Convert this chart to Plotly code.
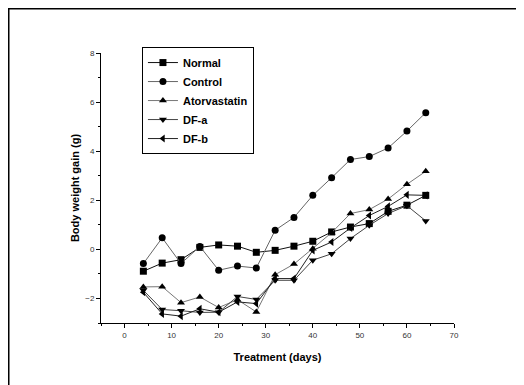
import plotly.graph_objects as go

days = [4, 8, 12, 16, 20, 24, 28, 32, 36, 40, 44, 48, 52, 56, 60, 64]
normal = [-0.89, -0.56, -0.42, 0.08, 0.18, 0.13, -0.12, -0.04, 0.13, 0.33, 0.71, 0.91, 1.05, 1.55, 1.8, 2.2]
control = [-0.58, 0.47, -0.58, 0.12, -0.85, -0.68, -0.76, 0.78, 1.3, 2.2, 2.92, 3.66, 3.78, 4.13, 4.82, 5.57]
atorvastatin = [-1.53, -1.52, -2.17, -1.94, -2.37, -2.05, -2.55, -1.03, -0.6, 0.03, 0.68, 1.46, 1.62, 2.05, 2.65, 3.18]
dfa = [-1.67, -2.45, -2.5, -2.57, -2.56, -1.92, -2.04, -1.26, -1.26, -0.44, -0.18, 0.44, 0.98, 1.46, 1.78, 1.16]
dfb = [-1.75, -2.63, -2.72, -2.42, -2.56, -2.14, -2.21, -1.19, -1.19, -0.04, 0.3, 0.87, 1.38, 1.75, 2.22, 2.2]

series = [
    ("Normal", normal, "square", "#111111"),
    ("Control", control, "circle", "#666666"),
    ("Atorvastatin", atorvastatin, "triangle-up", "#777777"),
    ("DF-a", dfa, "triangle-down", "#444444"),
    ("DF-b", dfb, "triangle-left", "#222222"),
]

fig = go.Figure()
for name, vals, sym, lc in series:
    fig.add_trace(go.Scatter(
        x=days, y=vals, name="<b>" + name + "</b>", mode="lines+markers",
        line=dict(color=lc, width=1),
        marker=dict(symbol=sym, size=7, color="black", line=dict(width=0)),
    ))

axis_common = dict(
    showgrid=False, zeroline=False, showline=True, linecolor="black", linewidth=1,
    ticks="outside", ticklen=4, tickcolor="black", tickwidth=1,
    tickfont=dict(family="Liberation Sans, Arial", size=8, color="#333333"),
    mirror=False, automargin=False,
)

fig.update_xaxes(
    range=[-5, 70], tick0=0, dtick=10,
    minor=dict(ticks="outside", ticklen=2, dtick=5, tick0=0, tickcolor="black"),
    title=dict(text="<b>Treatment (days)</b>", font=dict(family="Liberation Sans, Arial", size=11, color="black"), standoff=14),
    **axis_common,
)
fig.update_yaxes(
    range=[-3, 8], tick0=0, dtick=2,
    minor=dict(ticks="outside", ticklen=2, dtick=1, tick0=0, tickcolor="black"),
    title=dict(text="<b>Body weight gain (g)</b>", font=dict(family="Liberation Sans, Arial", size=11, color="black"), standoff=3),
    **axis_common,
)

fig.update_layout(
    width=524, height=385,
    margin=dict(l=93, r=78, t=45, b=70),
    paper_bgcolor="white", plot_bgcolor="white",
    showlegend=True,
    legend=dict(
        x=0.116, y=1.022, xanchor="left", yanchor="top",
        bordercolor="black", borderwidth=1, bgcolor="white",
        font=dict(family="Liberation Sans, Arial", size=11, color="black"),
        tracegroupgap=0, itemwidth=30,
    ),
    shapes=[dict(type="rect", xref="paper", yref="paper",
                 x0=-0.2613, x1=2.0, y0=-2.0, y1=1.1639,
                 line=dict(color="black", width=1.5), layer="below")],
)

fig.write_html("out.html")
